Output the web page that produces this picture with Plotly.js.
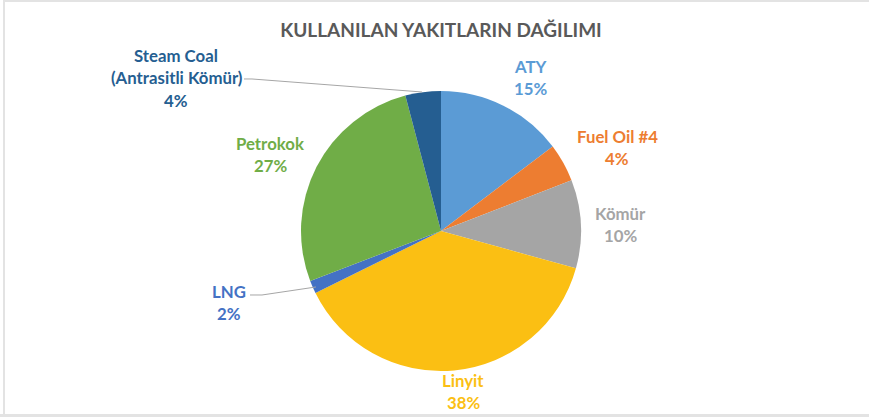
<!DOCTYPE html>
<html>
<head>
<meta charset="utf-8">
<script src="https://cdn.plot.ly/plotly-3.0.1.min.js"></script>
<style>html,body{margin:0;padding:0;background:#fff;}#chart{width:869px;height:417px;}</style>
</head>
<body>
<div id="chart"></div>
<script>
// Data
const labels = ["ATY", "Fuel Oil #4", "Kömür", "Linyit", "LNG", "Petrokok", "Steam Coal (Antrasitli Kömür)"];
const nameLines = [["ATY"], ["Fuel Oil #4"], ["Kömür"], ["Linyit"], ["LNG"], ["Petrokok"], ["Steam Coal", "(Antrasitli Kömür)"]];
const values = [14.7, 4.4, 10.2, 38.4, 1.5, 26.7, 4.1];
const colors = ["#5B9BD5", "#ED7D31", "#A5A5A5", "#FBBF13", "#4472C4", "#70AD47", "#255E91"];
const labelColors = ["#5B9BD5", "#ED7D31", "#A5A5A5", "#FBBF13", "#4472C4", "#70AD47", "#255E91"];
const chartTitle = "KULLANILAN YAKITLARIN DAĞILIMI";

// Layout positions (pixels) of label blocks: x center, y of first line
const W = 869, H = 417;
const labelPos = [[530, 66], [617, 136], [620, 213], [463, 380], [229, 291], [270, 143], [176, 55]];
const lineGap = 22.5;
const FONT = "Lato, 'Open Sans', sans-serif";

const total = values.reduce((a, b) => a + b, 0);
const annotations = [];
labels.forEach((lab, i) => {
  const lines = nameLines[i].concat([Math.round(values[i] / total * 100) + "%"]);
  lines.forEach((t, k) => {
    annotations.push({
      xref: "paper", yref: "paper",
      x: labelPos[i][0] / W, y: 1 - (labelPos[i][1] + k * lineGap) / H,
      xanchor: "center", yanchor: "middle",
      text: "<b>" + t + "</b>", showarrow: false,
      font: {family: FONT, size: 16.8, color: labelColors[i]}
    });
  });
});

function px(x, y) { return (x / W).toFixed(4) + "," + (1 - y / H).toFixed(4); }
const shapes = [
  // leader lines
  {type: "path", xref: "paper", yref: "paper", path: "M" + px(244, 79) + " L" + px(252, 79) + " L" + px(422, 92), line: {color: "#A6A6A6", width: 1}},
  {type: "path", xref: "paper", yref: "paper", path: "M" + px(250, 295) + " L" + px(262, 295) + " L" + px(316, 287), line: {color: "#A6A6A6", width: 1}},
  // frame
  {type: "rect", xref: "paper", yref: "paper", x0: 3 / W, x1: 5 / W, y0: 0, y1: 1, line: {width: 0}, fillcolor: "#E3E3E3"},
  {type: "rect", xref: "paper", yref: "paper", x0: 3 / W, x1: 1, y0: 1 - 2 / H, y1: 1, line: {width: 0}, fillcolor: "#E3E3E3"},
  {type: "rect", xref: "paper", yref: "paper", x0: 0, x1: 1, y0: 0, y1: 3 / H, line: {width: 0}, fillcolor: "#E3E3E3"}
];

const cx = 441, cy = 231, r = 140;
const data = [{
  type: "pie",
  labels: labels,
  values: values,
  sort: false,
  direction: "clockwise",
  rotation: 0,
  textinfo: "none",
  hoverinfo: "label+percent",
  marker: {colors: colors, line: {color: "#FFFFFF", width: 0}},
  domain: {x: [(cx - r) / W, (cx + r) / W], y: [1 - (cy + r) / H, 1 - (cy - r) / H]},
  showlegend: false
}];

const layout = {
  width: W, height: H,
  margin: {l: 0, r: 0, t: 0, b: 0},
  paper_bgcolor: "#FFFFFF",
  title: {text: "<b>" + chartTitle + "</b>", x: 441 / W, xanchor: "center", y: 1 - 30 / H, yanchor: "middle",
          font: {family: FONT, size: 19, color: "#595959"}},
  annotations: annotations,
  shapes: shapes,
  showlegend: false
};

Plotly.newPlot("chart", data, layout, {displayModeBar: false, staticPlot: true});
</script>
</body>
</html>
